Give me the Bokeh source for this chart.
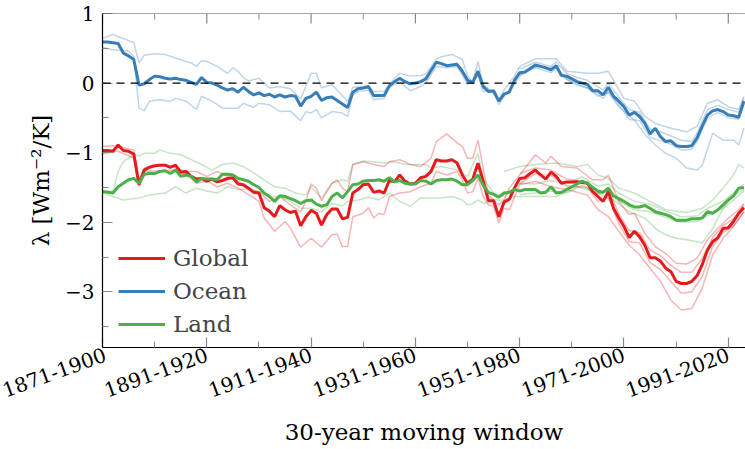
from bokeh.plotting import figure
from bokeh.models import Range1d, FixedTicker, Span, Legend, LegendItem
from bokeh.embed import file_html
from bokeh.resources import INLINE

# ---------------- data ----------------
start_year = 1871
tick_years = [1871, 1891, 1911, 1931, 1951, 1971, 1991]
tick_labels = ["1871-1900", "1891-1920", "1911-1940", "1931-1960",
               "1951-1980", "1971-2000", "1991-2020"]
minor_years = [1881, 1901, 1921, 1941, 1961, 1981]

ocean_main = [
    0.59, 0.59, 0.58, 0.57, 0.43, 0.39, 0.34, -0.03, -0.01, 0.05,
    0.10, 0.09, 0.07, 0.06, 0.07, 0.05, 0.04, 0.01, -0.02, 0.08,
    0.01, 0.00, -0.03, -0.07, -0.10, -0.08, -0.13, -0.06, -0.12, -0.17,
    -0.14, -0.18, -0.16, -0.20, -0.17, -0.20, -0.18, -0.19, -0.33, -0.22,
    -0.19, -0.13, -0.25, -0.21, -0.20, -0.25, -0.30, -0.35, -0.13, -0.08,
    -0.07, -0.05, -0.18, -0.18, -0.18, -0.04, 0.02, 0.07, 0.02, -0.01,
    0.00, 0.02, 0.06, 0.18, 0.30, 0.28, 0.25, 0.26, 0.27, 0.17,
    0.04, 0.01, 0.17, -0.05, -0.12, -0.11, -0.26, -0.16, -0.13, 0.04,
    0.15, 0.16, 0.21, 0.26, 0.24, 0.22, 0.19, 0.25, 0.11, 0.10,
    0.06, 0.02, 0.00, -0.02, -0.11, -0.11, -0.17, -0.06, -0.19, -0.26,
    -0.34, -0.46, -0.42, -0.48, -0.58, -0.73, -0.65, -0.77, -0.84, -0.83,
    -0.90, -0.91, -0.91, -0.90, -0.79, -0.62, -0.46, -0.40, -0.38, -0.41,
    -0.46, -0.47, -0.49, -0.26]

global_main = [
    -0.97, -0.97, -0.98, -0.89, -0.97, -0.98, -1.02, -1.46, -1.25, -1.21,
    -1.19, -1.18, -1.18, -1.21, -1.18, -1.28, -1.27, -1.34, -1.38, -1.37,
    -1.41, -1.38, -1.42, -1.40, -1.37, -1.36, -1.45, -1.46, -1.51, -1.57,
    -1.58, -1.79, -1.84, -1.92, -1.76, -1.82, -1.86, -1.84, -2.05, -1.92,
    -1.83, -1.87, -2.04, -1.89, -1.81, -1.81, -1.95, -1.93, -1.58, -1.53,
    -1.46, -1.45, -1.57, -1.55, -1.58, -1.40, -1.42, -1.32, -1.41, -1.45,
    -1.44, -1.36, -1.34, -1.27, -1.10, -1.12, -1.12, -1.10, -1.15, -1.32,
    -1.44, -1.38, -1.15, -1.41, -1.69, -1.69, -1.92, -1.71, -1.67, -1.51,
    -1.37, -1.36, -1.30, -1.25, -1.32, -1.38, -1.28, -1.34, -1.44, -1.42,
    -1.42, -1.42, -1.43, -1.44, -1.56, -1.63, -1.70, -1.56, -1.80, -1.94,
    -2.06, -2.22, -2.13, -2.21, -2.33, -2.51, -2.51, -2.56, -2.66, -2.71,
    -2.85, -2.88, -2.88, -2.85, -2.77, -2.61, -2.40, -2.28, -2.22, -2.09,
    -2.08, -1.99, -1.87, -1.79]

land_main = [
    -1.56, -1.57, -1.58, -1.49, -1.44, -1.39, -1.37, -1.44, -1.31, -1.30,
    -1.30, -1.27, -1.26, -1.30, -1.25, -1.34, -1.32, -1.34, -1.42, -1.37,
    -1.38, -1.38, -1.39, -1.31, -1.31, -1.32, -1.37, -1.39, -1.41, -1.46,
    -1.50, -1.58, -1.63, -1.70, -1.62, -1.63, -1.66, -1.69, -1.73, -1.69,
    -1.68, -1.74, -1.77, -1.75, -1.63, -1.58, -1.65, -1.56, -1.46, -1.45,
    -1.41, -1.40, -1.40, -1.39, -1.41, -1.36, -1.42, -1.40, -1.44, -1.45,
    -1.45, -1.40, -1.41, -1.45, -1.40, -1.39, -1.39, -1.38, -1.41, -1.46,
    -1.46, -1.40, -1.32, -1.47, -1.57, -1.60, -1.64, -1.58, -1.57, -1.53,
    -1.55, -1.53, -1.53, -1.53, -1.58, -1.57, -1.49, -1.58, -1.57, -1.53,
    -1.49, -1.45, -1.41, -1.44, -1.50, -1.55, -1.57, -1.51, -1.62, -1.66,
    -1.70, -1.75, -1.78, -1.78, -1.76, -1.80, -1.85, -1.87, -1.89, -1.92,
    -1.97, -1.97, -1.97, -1.95, -1.95, -1.94, -1.85, -1.87, -1.82, -1.75,
    -1.68, -1.62, -1.51, -1.50]

# thin lines: individual datasets (years, values)
ocean_a_years = [1871, 1873, 1874, 1876, 1877, 1878, 1879, 1881, 1883, 1885, 1887, 1888, 1889, 1890, 1891, 1893, 1895, 1896, 1897, 1898, 1899, 1901, 1903, 1905, 1907, 1909, 1911, 1912, 1913, 1915, 1918, 1919, 1922, 1923, 1925, 1927, 1928, 1930, 1932, 1933, 1935, 1936, 1938, 1940, 1941, 1942, 1943, 1944, 1945, 1947, 1948, 1950, 1951, 1954, 1958, 1960, 1964, 1966, 1968, 1971, 1973, 1975, 1977, 1980, 1983, 1985, 1987, 1989, 1991, 1993, 1994]
ocean_a_vals = [0.64, 0.70, 0.67, 0.61, 0.58, 0.29, 0.40, 0.42, 0.41, 0.36, 0.31, 0.29, 0.24, 0.32, 0.31, 0.24, 0.14, 0.22, 0.17, 0.08, 0.03, 0.07, -0.07, -0.05, -0.08, -0.23, 0.14, 0.14, -0.07, -0.02, -0.26, -0.06, -0.05, -0.12, -0.12, 0.07, 0.14, 0.10, 0.11, 0.13, 0.34, 0.38, 0.41, 0.34, 0.10, 0.02, 0.31, -0.02, -0.08, -0.24, -0.10, 0.10, 0.24, 0.35, 0.35, 0.17, 0.14, 0.14, 0.17, -0.22, -0.26, -0.48, -0.58, -0.65, -0.70, -0.62, -0.29, -0.24, -0.34, -0.38, -0.19]

ocean_b_years = [1871, 1873, 1876, 1877, 1878, 1879, 1880, 1882, 1884, 1885, 1887, 1889, 1890, 1892, 1894, 1896, 1897, 1898, 1900, 1901, 1903, 1905, 1907, 1909, 1910, 1911, 1912, 1913, 1915, 1917, 1918, 1919, 1920, 1922, 1923, 1925, 1926, 1928, 1930, 1932, 1933, 1935, 1937, 1939, 1941, 1943, 1944, 1946, 1947, 1948, 1950, 1951, 1954, 1958, 1960, 1964, 1966, 1968, 1970, 1973, 1975, 1977, 1979, 1981, 1983, 1985, 1986, 1988, 1990, 1992, 1993, 1994]
ocean_b_vals = [0.51, 0.48, 0.46, 0.38, -0.36, -0.40, -0.26, -0.24, -0.26, -0.22, -0.26, -0.38, -0.19, -0.26, -0.36, -0.36, -0.36, -0.29, -0.35, -0.29, -0.31, -0.41, -0.40, -0.54, -0.41, -0.43, -0.38, -0.50, -0.41, -0.43, -0.48, -0.17, -0.12, -0.10, -0.24, -0.22, -0.06, 0.02, -0.11, -0.05, 0.00, 0.24, 0.22, 0.24, -0.02, 0.10, -0.12, -0.12, -0.31, -0.19, -0.02, 0.10, 0.24, 0.22, 0.05, -0.07, -0.19, -0.14, -0.34, -0.53, -0.74, -0.89, -1.01, -1.08, -1.22, -1.25, -1.18, -0.72, -0.82, -0.82, -0.89, -0.65]

ocean_c_years = [1951, 1954, 1957, 1958, 1960, 1962, 1964, 1966, 1967, 1968, 1970, 1972, 1974, 1976, 1978, 1980, 1982, 1984, 1985, 1987, 1989, 1991, 1993, 1994]
ocean_c_vals = [0.20, 0.30, 0.24, 0.30, 0.14, 0.08, 0.04, -0.05, -0.10, 0.00, -0.20, -0.38, -0.42, -0.66, -0.70, -0.76, -0.82, -0.84, -0.72, -0.38, -0.32, -0.38, -0.42, -0.22]
ocean_d_years = [1951, 1954, 1957, 1958, 1960, 1962, 1964, 1966, 1967, 1968, 1970, 1972, 1974, 1976, 1978, 1980, 1982, 1984, 1985, 1987, 1989, 1991, 1993, 1994]
ocean_d_vals = [0.12, 0.22, 0.15, 0.21, 0.06, -0.03, -0.07, -0.16, -0.22, -0.12, -0.31, -0.52, -0.54, -0.78, -0.83, -0.88, -0.96, -0.95, -0.84, -0.50, -0.42, -0.50, -0.52, -0.30]

global_a_years = [1871, 1873, 1875, 1877, 1878, 1879, 1881, 1883, 1885, 1887, 1889, 1891, 1893, 1895, 1897, 1899, 1901, 1903, 1905, 1907, 1909, 1910, 1911, 1912, 1913, 1915, 1916, 1917, 1918, 1919, 1921, 1923, 1925, 1926, 1928, 1930, 1932, 1934, 1935, 1937, 1939, 1940, 1941, 1942, 1943, 1944, 1945, 1947, 1948, 1949, 1951, 1954, 1956, 1957, 1959, 1962, 1965, 1967, 1968, 1970, 1972, 1973, 1975, 1977, 1979, 1981, 1983, 1985, 1987, 1989, 1991, 1993, 1994]
global_a_vals = [-0.91, -0.90, -0.93, -0.96, -1.39, -1.22, -1.17, -1.17, -1.22, -1.27, -1.27, -1.34, -1.27, -1.34, -1.41, -1.53, -1.56, -1.70, -1.63, -1.75, -1.85, -1.70, -1.45, -1.51, -1.69, -1.44, -1.39, -1.51, -1.56, -1.17, -1.13, -1.17, -1.20, -1.13, -1.10, -1.17, -1.20, -1.08, -0.84, -0.73, -0.86, -0.91, -1.08, -1.08, -0.82, -1.22, -1.61, -1.75, -1.68, -1.51, -1.32, -1.03, -1.15, -1.05, -1.20, -1.22, -1.39, -1.39, -1.32, -1.70, -1.89, -1.87, -2.16, -2.35, -2.45, -2.59, -2.60, -2.52, -2.25, -2.09, -1.94, -1.82, -1.73]

global_b_years = [1871, 1874, 1877, 1878, 1879, 1882, 1885, 1887, 1889, 1891, 1893, 1895, 1897, 1900, 1901, 1902, 1904, 1906, 1907, 1909, 1911, 1913, 1915, 1916, 1917, 1918, 1919, 1921, 1922, 1923, 1924, 1925, 1926, 1928, 1930, 1932, 1934, 1935, 1937, 1939, 1940, 1941, 1942, 1943, 1944, 1945, 1946, 1947, 1948, 1949, 1951, 1954, 1957, 1960, 1964, 1966, 1968, 1970, 1972, 1974, 1976, 1978, 1980, 1982, 1984, 1986, 1988, 1990, 1992, 1994]
global_b_vals = [-1.02, -0.98, -1.08, -1.49, -1.27, -1.26, -1.25, -1.30, -1.44, -1.41, -1.49, -1.44, -1.51, -1.65, -1.70, -1.94, -2.13, -1.99, -2.08, -2.36, -2.23, -2.36, -2.18, -2.17, -2.35, -2.35, -1.92, -1.87, -1.79, -1.94, -1.87, -1.89, -1.63, -1.58, -1.56, -1.49, -1.44, -1.27, -1.32, -1.27, -1.39, -1.58, -1.56, -1.37, -1.63, -1.75, -1.77, -2.01, -1.80, -1.82, -1.46, -1.41, -1.49, -1.53, -1.61, -1.82, -1.92, -2.13, -2.33, -2.47, -2.66, -2.85, -3.12, -3.26, -3.24, -2.95, -2.47, -2.23, -2.06, -1.85]

global_c_years = [1951, 1954, 1957, 1960, 1964, 1966, 1968, 1970, 1972, 1974, 1976, 1978, 1980, 1982, 1984, 1986, 1988, 1990, 1992, 1994]
global_c_vals = [-1.30, -1.22, -1.25, -1.38, -1.42, -1.58, -1.52, -1.88, -2.12, -2.15, -2.40, -2.48, -2.62, -2.72, -2.72, -2.52, -2.22, -2.05, -1.95, -1.75]
global_d_years = [1951, 1954, 1957, 1960, 1964, 1966, 1968, 1970, 1972, 1974, 1976, 1978, 1980, 1982, 1984, 1986, 1988, 1990, 1992, 1994]
global_d_vals = [-1.45, -1.30, -1.33, -1.48, -1.50, -1.70, -1.65, -2.02, -2.28, -2.30, -2.58, -2.68, -2.85, -3.02, -3.00, -2.78, -2.35, -2.15, -2.05, -1.85]

land_a_years = [1871, 1873, 1874, 1875, 1877, 1878, 1879, 1881, 1882, 1884, 1886, 1888, 1890, 1892, 1894, 1896, 1898, 1900, 1902, 1904, 1906, 1908, 1910, 1911, 1913, 1915, 1917, 1918, 1919, 1921, 1923, 1925, 1927, 1929, 1931, 1933, 1934, 1936, 1939, 1941, 1943, 1944, 1946, 1948, 1950, 1951, 1954, 1957, 1960, 1963, 1966, 1968, 1970, 1973, 1976, 1979, 1982, 1985, 1987, 1990, 1992, 1994]
land_a_vals = [-1.54, -1.56, -1.27, -1.13, -1.03, -1.05, -1.01, -1.01, -0.96, -1.01, -1.03, -1.10, -1.17, -1.25, -1.17, -1.15, -1.20, -1.29, -1.39, -1.49, -1.51, -1.58, -1.61, -1.49, -1.65, -1.44, -1.39, -1.41, -1.17, -1.12, -1.13, -1.15, -1.13, -1.17, -1.17, -1.17, -1.22, -1.20, -1.25, -1.34, -1.01, -1.37, -1.58, -1.63, -1.51, -1.44, -1.45, -1.40, -1.45, -1.35, -1.48, -1.45, -1.58, -1.70, -1.74, -1.84, -1.92, -1.91, -1.80, -1.70, -1.58, -1.45]

land_b_years = [1871, 1873, 1875, 1878, 1880, 1883, 1885, 1887, 1889, 1891, 1893, 1895, 1897, 1899, 1901, 1903, 1905, 1907, 1909, 1911, 1913, 1915, 1917, 1918, 1920, 1922, 1924, 1926, 1928, 1930, 1932, 1934, 1936, 1938, 1940, 1941, 1942, 1943, 1944, 1946, 1948, 1950, 1954, 1958, 1962, 1966, 1969, 1972, 1975, 1977, 1979, 1981, 1983, 1985, 1986, 1988, 1990, 1992, 1994]
land_b_vals = [-1.58, -1.63, -1.68, -1.65, -1.61, -1.58, -1.49, -1.58, -1.51, -1.55, -1.58, -1.49, -1.53, -1.53, -1.56, -1.63, -1.63, -1.70, -1.80, -1.80, -1.85, -1.73, -1.77, -1.70, -1.68, -1.64, -1.68, -1.58, -1.70, -1.77, -1.65, -1.65, -1.65, -1.63, -1.68, -1.75, -1.73, -1.68, -1.73, -1.68, -1.68, -1.63, -1.63, -1.63, -1.49, -1.58, -1.68, -1.85, -1.94, -2.09, -2.18, -2.23, -2.25, -2.28, -2.30, -2.09, -1.80, -1.61, -1.53]

land_c_years = [1948, 1951, 1954, 1958, 1962, 1964, 1966, 1968, 1970, 1973, 1976, 1979, 1983, 1986, 1988, 1990, 1992, 1993, 1994]
land_c_vals = [-1.27, -1.20, -1.17, -1.15, -1.20, -1.17, -1.32, -1.37, -1.51, -1.58, -1.70, -1.82, -1.86, -1.80, -1.68, -1.51, -1.32, -1.17, -1.22]
land_d_years = [1951, 1954, 1957, 1960, 1963, 1966, 1968, 1970, 1973, 1976, 1979, 1982, 1985, 1987, 1990, 1992, 1994]
land_d_vals = [-1.60, -1.58, -1.55, -1.58, -1.47, -1.60, -1.55, -1.70, -1.82, -1.85, -1.93, -2.00, -1.99, -1.90, -1.80, -1.68, -1.55]

for arr in (ocean_main, global_main, land_main):
    assert len(arr) == 124, len(arr)
years = list(range(start_year, start_year + len(global_main)))

RED, BLUE, GREEN = "#e41a1c", "#377eb8", "#4daf4a"
SERIF = "DejaVu Serif"

Y_MIN, Y_MAX = -3.8, 1.0
p = figure(width=745, height=449, output_backend="svg", toolbar_location=None,
           x_range=Range1d(1871, 1994.3), y_range=Range1d(Y_MIN, Y_MAX),
           min_border_left=102, min_border_right=0, min_border_top=13,
           min_border_bottom=102)
p.outline_line_color = None
p.xgrid.visible = False
p.ygrid.visible = False
p.background_fill_color = "white"
p.border_fill_color = "white"

# zero reference
p.add_layout(Span(location=0, dimension="width", line_color="black",
                  line_width=1.3, line_dash="8 6"))

thin = [
    (ocean_a_years, ocean_a_vals, BLUE), (ocean_b_years, ocean_b_vals, BLUE),
    (ocean_c_years, ocean_c_vals, BLUE), (ocean_d_years, ocean_d_vals, BLUE),
    (land_a_years, land_a_vals, GREEN), (land_b_years, land_b_vals, GREEN),
    (land_c_years, land_c_vals, GREEN), (land_d_years, land_d_vals, GREEN),
    (global_a_years, global_a_vals, RED), (global_b_years, global_b_vals, RED),
    (global_c_years, global_c_vals, RED), (global_d_years, global_d_vals, RED),
]
for xs, ys, c in thin:
    p.line(xs, ys, line_color=c, line_alpha=0.32, line_width=1.5)

r_global = p.line(years, global_main, line_color=RED, line_width=3)
r_ocean = p.line(years, ocean_main, line_color=BLUE, line_width=3)
r_land = p.line(years, land_main, line_color=GREEN, line_width=3)

# top frame line with inward ticks (mirrors the bottom axis)
p.add_layout(Span(location=Y_MAX, dimension="width", line_color="#555555", line_width=1.2))
px_per_unit = (347 - 13) / (Y_MAX - Y_MIN)
p.segment(x0=tick_years, y0=[Y_MAX] * len(tick_years), x1=tick_years,
          y1=[Y_MAX - 10 / px_per_unit] * len(tick_years),
          line_color="#888888", line_width=1.2)
p.segment(x0=minor_years, y0=[Y_MAX] * len(minor_years), x1=minor_years,
          y1=[Y_MAX - 6 / px_per_unit] * len(minor_years),
          line_color="#888888", line_width=1)

# axes
xticker = FixedTicker(ticks=tick_years, minor_ticks=minor_years)
yticker = FixedTicker(ticks=[-3, -2, -1, 0, 1], minor_ticks=[-3.5, -2.5, -1.5, -0.5, 0.5])

xa = p.xaxis[0]
xa.ticker = xticker
xa.major_label_overrides = {y: l for y, l in zip(tick_years, tick_labels)}
xa.major_label_orientation = 0.35
xa.axis_label = "30-year moving window"

ya = p.yaxis[0]
ya.ticker = yticker
ya.major_label_overrides = {-3: "\u22123", -2: "\u22122", -1: "\u22121", 0: "0", 1: "1"}
ya.axis_label = "\u03bb [Wm\u207b\u00b2/K]"

for ax in (xa, ya):
    ax.axis_line_color = "black"
    ax.axis_line_width = 1.2
    ax.major_tick_in = 10
    ax.major_tick_out = 0
    ax.minor_tick_in = 6
    ax.minor_tick_out = 0
    ax.major_tick_line_color = "#888888"
    ax.minor_tick_line_color = "#888888"
    ax.major_tick_line_width = 1.2
    ax.minor_tick_line_width = 1
    ax.major_label_text_font = SERIF
    ax.major_label_text_font_size = "20px"
    ax.major_label_text_color = "black"
    ax.axis_label_text_font = SERIF
    ax.axis_label_text_font_size = "23px"
    ax.axis_label_text_font_style = "normal"
    ax.axis_label_text_color = "black"
xa.major_label_standoff = 6
xa.axis_label_standoff = 11
ya.major_label_standoff = 8
ya.axis_label_standoff = 8

legend = Legend(items=[LegendItem(label="Global", renderers=[r_global]),
                       LegendItem(label="Ocean", renderers=[r_ocean]),
                       LegendItem(label="Land", renderers=[r_land])],
                location=(16, 9))
legend.border_line_color = None
legend.background_fill_alpha = 0
legend.label_text_font = SERIF
legend.label_text_font_size = "23px"
legend.glyph_width = 47
legend.glyph_height = 28
legend.label_height = 28
legend.spacing = 5
legend.padding = 0
legend.margin = 0
legend.label_standoff = 8
p.add_layout(legend)

open("out.html", "w").write(file_html(p, INLINE))
